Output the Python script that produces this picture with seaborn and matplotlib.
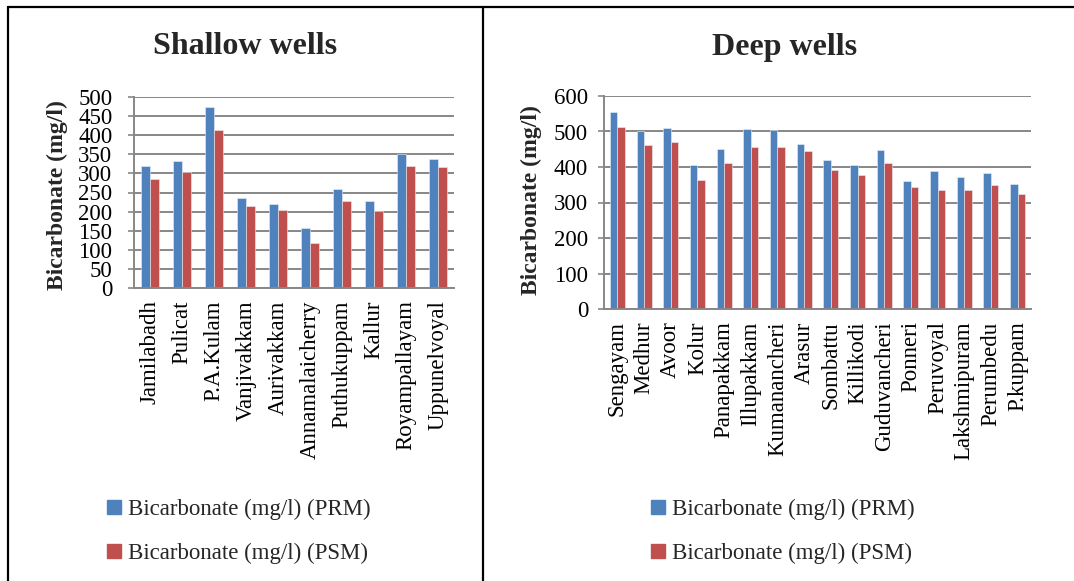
import matplotlib
matplotlib.use("Agg")
import matplotlib.pyplot as plt
from matplotlib.lines import Line2D
import seaborn as sns
import pandas as pd

# Bicarbonate concentrations (mg/l), pre-monsoon (PRM) and post-monsoon (PSM)
shallow_sites = ["Jamilabadh", "Pulicat", "P.A.Kulam", "Vanjivakkam", "Aurivakkam",
                 "Annamalaicherry", "Puthukuppam", "Kallur", "Royampallayam", "Uppunelvoyal"]
shallow_prm = [319, 333, 474, 236, 221, 157, 260, 229, 351, 339]
shallow_psm = [286, 303, 413, 215, 204, 119, 228, 201, 320, 318]

deep_sites = ["Sengayam", "Medhur", "Avoor", "Kolur", "Panapakkam", "Illupakkam",
              "Kumanancheri", "Arasur", "Sombattu", "Killikodi", "Guduvancheri",
              "Ponneri", "Peruvoyal", "Lakshmipuram", "Perumbedu", "P.kuppam"]
deep_prm = [556, 501, 511, 406, 452, 506, 504, 466, 420, 405, 447, 361, 388, 372, 383, 351]
deep_psm = [512, 462, 470, 364, 411, 455, 457, 445, 391, 378, 410, 344, 335, 335, 350, 325]

series_names = ["Bicarbonate (mg/l) (PRM)", "Bicarbonate (mg/l) (PSM)"]
colors = ["#4F81BD", "#C0504D"]


def long_table(sites, prm, psm):
    return pd.DataFrame({
        "site": sites * 2,
        "value": prm + psm,
        "series": [series_names[0]] * len(sites) + [series_names[1]] * len(sites),
    })


sns.set_theme(style="white")
plt.rcParams["font.family"] = ["Liberation Serif", "DejaVu Serif"]

fig = plt.figure(figsize=(10.74, 5.81), dpi=100)
W, H = 1074, 581


def px_axes(left, top, right, bottom):
    return fig.add_axes([left / W, 1 - bottom / H, (right - left) / W, (bottom - top) / H])


ax1 = px_axes(134, 97, 454, 288)
ax2 = px_axes(604, 96, 1031, 309)

panels = [
    (ax1, long_table(shallow_sites, shallow_prm, shallow_psm), 500, 50, 11),
    (ax2, long_table(deep_sites, deep_prm, deep_psm), 600, 100, 7),
]

grid_col = "#878787"
for ax, df, ymax, step, ypad in panels:
    sns.barplot(data=df, x="site", y="value", hue="series", palette=colors,
                width=0.56, ax=ax, legend=False, edgecolor="#e8eef7", linewidth=0.4,
                saturation=1)
    ax.set_ylim(0, ymax)
    ax.set_yticks(range(0, ymax + 1, step))
    ax.set_xlim(-0.5, len(df["site"].unique()) - 0.5)
    ax.yaxis.grid(True, color=grid_col, linewidth=1.4)
    ax.set_axisbelow(True)
    for s in ["top", "right"]:
        ax.spines[s].set_visible(False)
    for s in ["left", "bottom"]:
        ax.spines[s].set_color(grid_col)
        ax.spines[s].set_linewidth(1.4)
    ax.tick_params(axis="y", which="major", left=True, length=4.5, width=1.2,
                   color=grid_col, pad=ypad, labelsize=16.5, labelcolor="black")
    ax.tick_params(axis="x", bottom=False, pad=3, labelsize=16.5, labelcolor="black")
    for lab in ax.get_xticklabels():
        lab.set_rotation(90)
        lab.set_va("top")
        lab.set_ha("center")
    ax.set_xlabel("")
    ax.set_ylabel("")

# Panel titles and axis labels
fig.text(245 / W, 1 - 47 / H, "Shallow wells", ha="center", va="center",
         fontsize=23, fontweight="bold")
fig.text(785 / W, 1 - 47 / H, "Deep wells", ha="center", va="center",
         fontsize=23, fontweight="bold")
fig.text(57 / W, 1 - 195 / H, "Bicarbonate (mg/l)", rotation=90, ha="center",
         va="center", fontsize=17, fontweight="bold")
fig.text(531 / W, 1 - 200 / H, "Bicarbonate (mg/l)", rotation=90, ha="center",
         va="center", fontsize=17, fontweight="bold")

# Legends below each panel
handles = [Line2D([], [], marker="s", linestyle="none", markersize=10,
                  markerfacecolor=c, markeredgecolor=c) for c in colors]
for x0 in (96, 640):
    fig.legend(handles, series_names, loc="upper left",
               bbox_to_anchor=(x0 / W, 1 - 490 / H), frameon=False,
               fontsize=16.5, handlelength=0.8, handletextpad=0.2,
               labelspacing=1.0, borderaxespad=0)

# Panel frames
frame_kw = dict(color="black", linewidth=1.6, transform=fig.transFigure)
fig.add_artist(Line2D([8 / W, 8 / W], [0, 1 - 7 / H], **frame_kw))
fig.add_artist(Line2D([483 / W, 483 / W], [0, 1 - 7 / H], **frame_kw))
fig.add_artist(Line2D([8 / W, 1], [1 - 7 / H, 1 - 7 / H], **frame_kw))

fig.savefig("out.png", dpi=100)
